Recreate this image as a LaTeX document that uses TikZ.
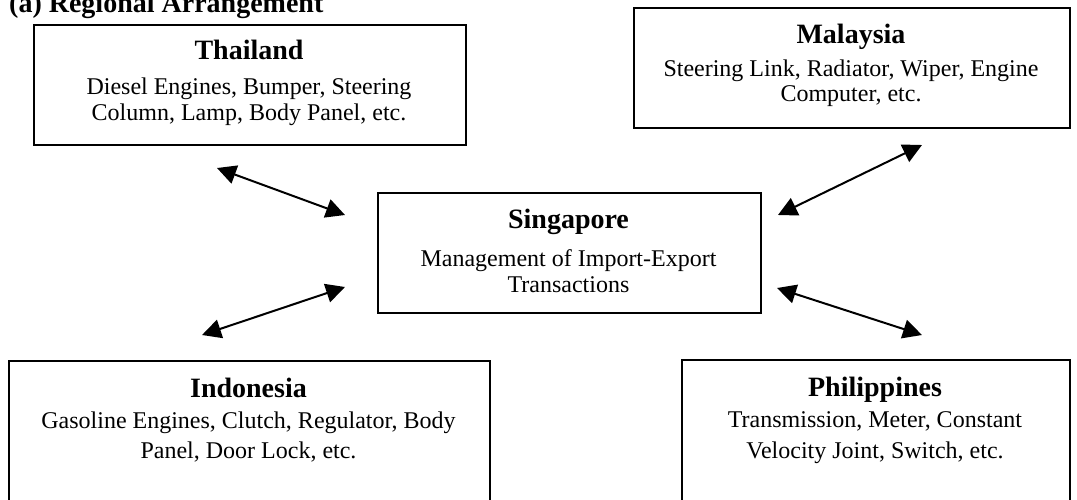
\documentclass[tikz,border=0pt]{standalone}
\usepackage{fontspec}
\setmainfont{Liberation Serif}
\usetikzlibrary{arrows.meta}
\begin{document}
\begin{tikzpicture}[x=1pt,y=-1pt,
  box/.style={draw, line width=2.2pt, anchor=north west, inner sep=0pt},
  ttl/.style={anchor=base, font=\fontsize{28}{30}\selectfont\bfseries, inner sep=0pt},
  txt/.style={anchor=base, font=\fontsize{24}{26}\selectfont, inner sep=0pt},
  link/.style={line width=2pt, {Triangle[length=19pt,width=19pt]}-{Triangle[length=19pt,width=19pt]}}]
\useasboundingbox (0,0) rectangle (1077,499);
% title
\node[ttl, anchor=base west] (title) at (9,12) {(a) Regional Arrangement};
% boxes
\node[box, minimum width=432pt, minimum height=120pt] (thai) at (33,24) {};
\node[box, minimum width=436pt, minimum height=120pt] (mal) at (633,7) {};
\node[box, minimum width=383pt, minimum height=120pt] (sin) at (377,192) {};
\node[box, minimum width=481pt, minimum height=170pt] (ind) at (8,360) {};
\node[box, minimum width=388pt, minimum height=170pt] (phi) at (681,359) {};
% Thailand text
\node[ttl] (thaiT) at (249,59) {Thailand};
\node[txt] (thaiA) at (249,94) {Diesel Engines, Bumper, Steering};
\node[txt] (thaiB) at (249,120) {Column, Lamp, Body Panel, etc.};
% Malaysia text
\node[ttl] (malT) at (851,43) {Malaysia};
\node[txt] (malA) at (851,76) {Steering Link, Radiator, Wiper, Engine};
\node[txt] (malB) at (851,101) {Computer, etc.};
% Singapore text
\node[ttl] (sinT) at (568.5,228) {Singapore};
\node[txt] (sinA) at (568.5,266) {Management of Import-Export};
\node[txt] (sinB) at (568.5,292) {Transactions};
% Indonesia text
\node[ttl] (indT) at (248.5,397) {Indonesia};
\node[txt] (indA) at (248.5,428) {Gasoline Engines, Clutch, Regulator, Body};
\node[txt] (indB) at (248.5,458) {Panel, Door Lock, etc.};
% Philippines text
\node[ttl] (phiT) at (875,396) {Philippines};
\node[txt] (phiA) at (875,427) {Transmission, Meter, Constant};
\node[txt] (phiB) at (875,458) {Velocity Joint, Switch, etc.};
% arrows
\coordinate (a1) at (217,168);
\coordinate (a2) at (345,215);
\coordinate (b1) at (922,145);
\coordinate (b2) at (778,215);
\coordinate (c1) at (202,335);
\coordinate (c2) at (345,287);
\coordinate (d1) at (777,288);
\coordinate (d2) at (922,335);
\draw[link] (a1) -- (a2);
\draw[link] (b1) -- (b2);
\draw[link] (c1) -- (c2);
\draw[link] (d1) -- (d2);
\end{tikzpicture}
\end{document}
